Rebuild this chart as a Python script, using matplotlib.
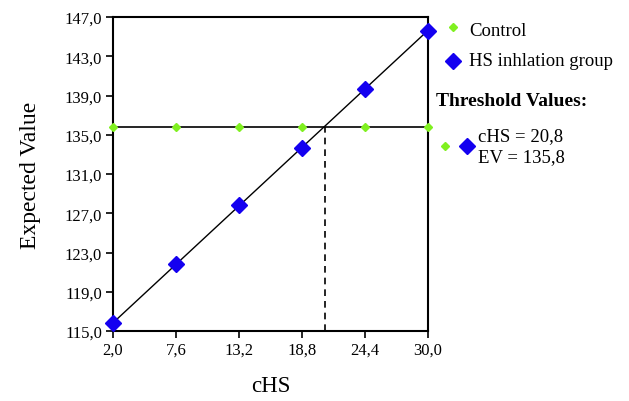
import numpy as np
import matplotlib
matplotlib.use("Agg")
import matplotlib.pyplot as plt
from matplotlib.lines import Line2D

# values
chs = [2.0, 7.6, 13.2, 18.8, 24.4, 30.0]
hs_group = [115.8, 121.8, 127.8, 133.7, 139.7, 145.6]
control = [135.8, 135.8, 135.8, 135.8, 135.8, 135.8]
thr_chs = 20.8
thr_ev = 135.8
yticks = [115.0, 119.0, 123.0, 127.0, 131.0, 135.0, 139.0, 143.0, 147.0]

blue = "#1400f0"
green = "#80f020"

plt.rcParams['font.family'] = ['Liberation Serif', 'DejaVu Serif']

fig = plt.figure(figsize=(6.29, 4.02), dpi=100)
ax = fig.add_axes([113/629, 70/402, 315/629, 314/402])

# regression line through the HS points
coef = np.polyfit(chs, hs_group, 1)
xx = np.array([chs[0], chs[-1]])
ax.plot(xx, np.polyval(coef, xx), color="black", lw=1.0, zorder=2)

ax.axhline(thr_ev, color="black", lw=1.2, zorder=2)
ax.plot([thr_chs, thr_chs], [115.0, thr_ev], color="black", lw=1.2,
        ls=(0, (4, 3)), zorder=2)

ax.plot(chs, control, ls="none", marker="D", ms=4.5, color=green,
        mec=green, clip_on=False, zorder=3)
ax.plot(chs, hs_group, ls="none", marker="D", ms=8.5, color=blue,
        mec=blue, clip_on=False, zorder=4)

ax.set_xlim(2, 30)
ax.set_ylim(115, 147)
ax.set_xticks(chs)
ax.set_xticklabels([f"{v:.1f}".replace(".", ",") for v in chs])
ax.set_yticks(yticks)
ax.set_yticklabels([f"{v:.1f}".replace(".", ",") for v in yticks])
ax.tick_params(direction="out", length=5, width=1.2, labelsize=12, pad=3)
for s in ax.spines.values():
    s.set_linewidth(1.5)

ax.set_xlabel("cHS", fontsize=16.5, labelpad=12)
ax.set_ylabel("Expected Value", fontsize=17, labelpad=17)

# legend area on the right
def fy(py):
    return 1 - py / 402

def fx(px):
    return px / 629

fig.add_artist(Line2D([fx(453)], [fy(28)], marker="D", ms=4.5, color=green,
                      ls="none", transform=fig.transFigure))
fig.add_artist(Line2D([fx(453)], [fy(62)], marker="D", ms=8.5, color=blue,
                      ls="none", transform=fig.transFigure))
fig.text(fx(469), fy(31), "Control", fontsize=13.5, va="center")
fig.text(fx(469), fy(62), "HS inhlation group", fontsize=13.5, va="center")
fig.text(fx(436), fy(102), "Threshold Values:", fontsize=14,
         fontweight="bold", va="center")
fig.add_artist(Line2D([fx(445)], [fy(147)], marker="D", ms=4.5, color=green,
                      ls="none", transform=fig.transFigure))
fig.add_artist(Line2D([fx(467)], [fy(147)], marker="D", ms=8.5, color=blue,
                      ls="none", transform=fig.transFigure))
fig.text(fx(478), fy(137), f"cHS = {thr_chs:.1f}".replace(".", ","),
         fontsize=13.5, va="center")
fig.text(fx(478), fy(158), f"EV = {thr_ev:.1f}".replace(".", ","),
         fontsize=13.5, va="center")

fig.savefig("out.png", dpi=100)
